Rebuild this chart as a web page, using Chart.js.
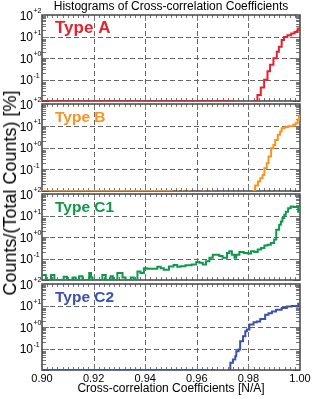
<!DOCTYPE html>
<html>
<head>
<meta charset="utf-8">
<script src="https://cdn.jsdelivr.net/npm/chart.js@4.4.1/dist/chart.umd.min.js"></script>
<style>
    html, body { margin: 0; padding: 0; background: #fff; }
    #wrap { position: relative; width: 314px; height: 399px; overflow: hidden; font-family: 'Liberation Sans', Arial, sans-serif; }
    #wrap canvas { position: absolute; left: 0; top: 0; }
    #title { position: absolute; left: 171px; top: -1px; transform: translateX(-50%); font-size: 12px; line-height: 14px; white-space: nowrap; color: #000; }
    #ytitle { position: absolute; left: 10px; top: 193px; transform: translate(-50%, -50%) rotate(-90deg); font-size: 18px; line-height: 20px; white-space: nowrap; color: #000; }
</style>
</head>
<body>
<div id="wrap">
    <canvas id="panelA" width="314" height="399"></canvas>
    <canvas id="panelB" width="314" height="399"></canvas>
    <canvas id="panelC1" width="314" height="399"></canvas>
    <canvas id="panelC2" width="314" height="399"></canvas>
    <div id="title">Histograms of Cross-correlation Coefficients</div>
    <div id="ytitle">Counts/(Total Counts) [%]</div>
</div>
<script>
// axis ticks
const xTicks = [0.90, 0.92, 0.94, 0.96, 0.98, 1.00];
const xGrid = [0.92, 0.94, 0.96, 0.98];
const yGrid = [10, 1, 0.1];
const yTickValues = [100, 10, 1, 0.1];
const yExpLabels = ['+2', '+1', '+0', '-1'];

// bin left edges (x) and counts in % (y); null = empty bins
const typeA_x = [0.900, 0.975, 0.976, 0.9820, 0.9835, 0.9848, 0.9861, 0.9874, 0.9884, 0.9897, 0.9910, 0.9918, 0.9929, 0.9938, 0.9951, 0.9966, 0.9979, 0.9991, 1.000];
const typeA_y = [0.01, 0.01, null, 0.01, 0.019, 0.042, 0.098, 0.24, 0.48, 0.98, 1.96, 3.3, 6.8, 9.5, 11.5, 13.7, 16.3, 23.4, 23.4];

const typeB_x = [0.900, 0.9506, 0.9510, 0.9523, 0.9530, 0.9531, 0.9542, 0.9549, 0.9550, 0.9568, 0.9575, 0.9576, 0.9622, 0.9629, 0.9630, 0.9653, 0.9660, 0.9661,
                 0.9815, 0.9826, 0.9837, 0.9846, 0.9855, 0.9862, 0.9871, 0.9878, 0.9888, 0.9897, 0.9904, 0.9914, 0.9923, 0.9929, 0.9940, 0.9955, 0.9974, 0.9983, 0.9991, 0.9996, 1.000];
const typeB_y = [0.01, 0.01, null, 0.01, 0.01, null, 0.01, 0.01, null, 0.01, 0.01, null, 0.01, 0.01, null, 0.01, 0.01, null,
                 0.01, 0.018, 0.027, 0.039, 0.055, 0.11, 0.19, 0.39, 0.93, 1.3, 2.2, 3.9, 5.5, 7.7, 8.5, 9.4, 11, 13, 19, 27, 27];

const typeC1_x = [0.9000, 0.9015, 0.9035, 0.9048, 0.9084, 0.9097, 0.9118, 0.9131, 0.9144, 0.9157, 0.9183, 0.9190, 0.9196, 0.9234, 0.9247, 0.9266, 0.9275,
                  0.9292, 0.9312, 0.9324, 0.9344, 0.9356, 0.9370, 0.9382, 0.9395, 0.9408, 0.9421, 0.9447, 0.9460, 0.9472, 0.9492, 0.9510,
                  0.9524, 0.9537, 0.9556, 0.9580, 0.9598, 0.9610, 0.9623, 0.9636, 0.9649, 0.9662, 0.9687, 0.9700, 0.9717, 0.9726, 0.9736, 0.9746,
                  0.9753, 0.9765, 0.9782, 0.9797, 0.9810, 0.9823, 0.9836, 0.9849, 0.9862, 0.9874, 0.9887, 0.9900, 0.9908, 0.9919, 0.9926, 0.9932,
                  0.9939, 0.9945, 0.9954, 0.9964, 0.9975, 0.9993, 1.0000];
const typeC1_y = [0.017, 0.01, 0.017, 0.01, 0.014, 0.01, 0.013, 0.01, 0.015, 0.01, 0.021, 0.013, 0.01, 0.017, 0.01, 0.015, 0.01,
                  0.021, 0.013, 0.01, 0.013, 0.01, 0.025, 0.021, 0.035, 0.033, 0.033, 0.041, 0.035, 0.030, 0.042, 0.050,
                  0.041, 0.044, 0.048, 0.053, 0.068, 0.063, 0.053, 0.075, 0.107, 0.15, 0.13, 0.107, 0.18, 0.22, 0.15, 0.107,
                  0.15, 0.20, 0.18, 0.17, 0.22, 0.20, 0.26, 0.31, 0.40, 0.44, 0.53, 0.76, 2.2, 3.7, 5.3, 7.6,
                  10.8, 15, 22, 26, 25, 15, 15];

const typeC2_x = [0.900, 0.9646, 0.9650, 0.9655, 0.9670, 0.9671, 0.9722, 0.9730, 0.9740, 0.9749, 0.9753, 0.9762, 0.9768, 0.9779, 0.9788, 0.9794, 0.9804,
                  0.9820, 0.9833, 0.9846, 0.9865, 0.9878, 0.9891, 0.9907, 0.9929, 0.9949, 0.9968, 0.9987, 0.9993, 1.000];
const typeC2_y = [0.01, 0.01, null, 0.01, 0.01, null, 0.01, 0.022, 0.031, 0.044, 0.075, 0.09, 0.22, 0.37, 0.63, 0.76, 1.3,
                  1.65, 1.8, 2.35, 3.7, 4.4, 5.3, 6.3, 7.6, 9.0, 9.6, 9.0, 12, 12];

const FONT = "'Liberation Sans', Arial, sans-serif";

const panelDecor = {
    id: 'panelDecor',
    beforeDatasetsDraw(chart, args, opts) {
        const { ctx, chartArea: a, scales: { x, y } } = chart;
        ctx.save();
        // dashed grid
        ctx.strokeStyle = '#666';
        ctx.lineWidth = 1;
        ctx.setLineDash([5, 3]);
        ctx.beginPath();
        xGrid.forEach(v => {
            const px = Math.round(x.getPixelForValue(v)) + 0.5;
            ctx.moveTo(px, a.top);
            ctx.lineTo(px, a.bottom);
        });
        yGrid.forEach(v => {
            const py = Math.round(y.getPixelForValue(v)) + 0.5;
            ctx.moveTo(a.left, py);
            ctx.lineTo(a.right, py);
        });
        ctx.stroke();
        ctx.setLineDash([]);

        // log minor ticks, left and right, pointing inward
        ctx.strokeStyle = '#777';
        ctx.beginPath();
        for (let e = -2; e <= 1; e++) {
            for (let m = 1; m <= 9; m++) {
                const py = Math.round(y.getPixelForValue(m * Math.pow(10, e))) + 0.5;
                const len = m === 1 ? 7 : 4;
                ctx.moveTo(a.left, py); ctx.lineTo(a.left + len, py);
                ctx.moveTo(a.right, py); ctx.lineTo(a.right - len, py);
            }
        }
        // x minor ticks, top and bottom
        for (let k = 1; k < 50; k++) {
            const px = Math.round(x.getPixelForValue(0.9 + k * 0.002)) + 0.5;
            const len = k % 10 === 0 ? 6 : 3;
            ctx.moveTo(px, a.top); ctx.lineTo(px, a.top + len);
            ctx.moveTo(px, a.bottom); ctx.lineTo(px, a.bottom - len);
        }
        ctx.stroke();

        // panel frame
        ctx.strokeStyle = '#444';
        ctx.lineWidth = 1.5;
        ctx.strokeRect(a.left, a.top, a.right - a.left, a.bottom - a.top);
        ctx.restore();
    },
    afterDatasetsDraw(chart, args, opts) {
        const { ctx, chartArea: a } = chart;
        ctx.save();
        ctx.fillStyle = opts.color;
        ctx.font = 'bold ' + opts.size + 'px ' + FONT;
        ctx.textAlign = 'left';
        ctx.textBaseline = 'alphabetic';
        ctx.fillText(opts.name, a.left + 13, a.top + 17.5);
        ctx.restore();
    },
    afterDraw(chart) {
        const { ctx, scales: { y } } = chart;
        ctx.save();
        ctx.fillStyle = '#000';
        yTickValues.forEach((v, i) => {
            const py = y.getPixelForValue(v);
            ctx.font = '12px ' + FONT;
            ctx.textAlign = 'right';
            ctx.textBaseline = 'middle';
            ctx.fillText('10', 33, py + 1.5);
            ctx.font = '7px ' + FONT;
            ctx.textAlign = 'left';
            ctx.fillText(yExpLabels[i], 33.5, py - 3.5);
        });
        ctx.restore();
    }
};

const makePanel = (id, xs, ys, color, name, size, top, bottom, isLast) => {
    new Chart(document.getElementById(id), {
        type: 'line',
        data: {
            datasets: [{
                data: xs.map((x, i) => ({ x: x, y: ys[i] })),
                borderColor: color,
                borderWidth: 2,
                pointRadius: 0,
                stepped: true,
                spanGaps: false,
                fill: false
            }]
        },
        options: {
            responsive: false,
            animation: false,
            events: [],
            layout: { padding: { left: 42, right: 14, top: top, bottom: isLast ? 0 : 399 - bottom } },
            plugins: {
                legend: { display: false },
                tooltip: { enabled: false },
                panelDecor: { color: color, name: name, size: size }
            },
            scales: {
                x: {
                    type: 'linear',
                    min: 0.9,
                    max: 1.0,
                    display: isLast,
                    grid: { display: false, drawTicks: false, tickLength: 0 },
                    border: { display: false },
                    afterBuildTicks: s => { s.ticks = xTicks.map(v => ({ value: v })); },
                    afterFit: s => { if (isLast) s.height = 399 - bottom; },
                    ticks: {
                        color: '#000',
                        padding: 2,
                        maxRotation: 0,
                        font: { family: FONT, size: 11 },
                        callback: v => v.toFixed(2)
                    },
                    title: {
                        display: true,
                        text: 'Cross-correlation Coefficients [N/A]',
                        color: '#000',
                        font: { family: FONT, size: 12 },
                        padding: { top: 2, bottom: 3 }
                    }
                },
                y: {
                    type: 'logarithmic',
                    min: 0.01,
                    max: 100,
                    display: false
                }
            }
        },
        plugins: [panelDecor]
    });
};

makePanel('panelA', typeA_x, typeA_y, '#e8202e', 'Type A', 17, 15, 101, false);
makePanel('panelB', typeB_x, typeB_y, '#f7941d', 'Type B', 15.5, 104, 191, false);
makePanel('panelC1', typeC1_x, typeC1_y, '#0f9a4b', 'Type C1', 15.5, 194, 280, false);
makePanel('panelC2', typeC2_x, typeC2_y, '#3a53a4', 'Type C2', 15.5, 284, 370, true);
</script>
</body>
</html>
